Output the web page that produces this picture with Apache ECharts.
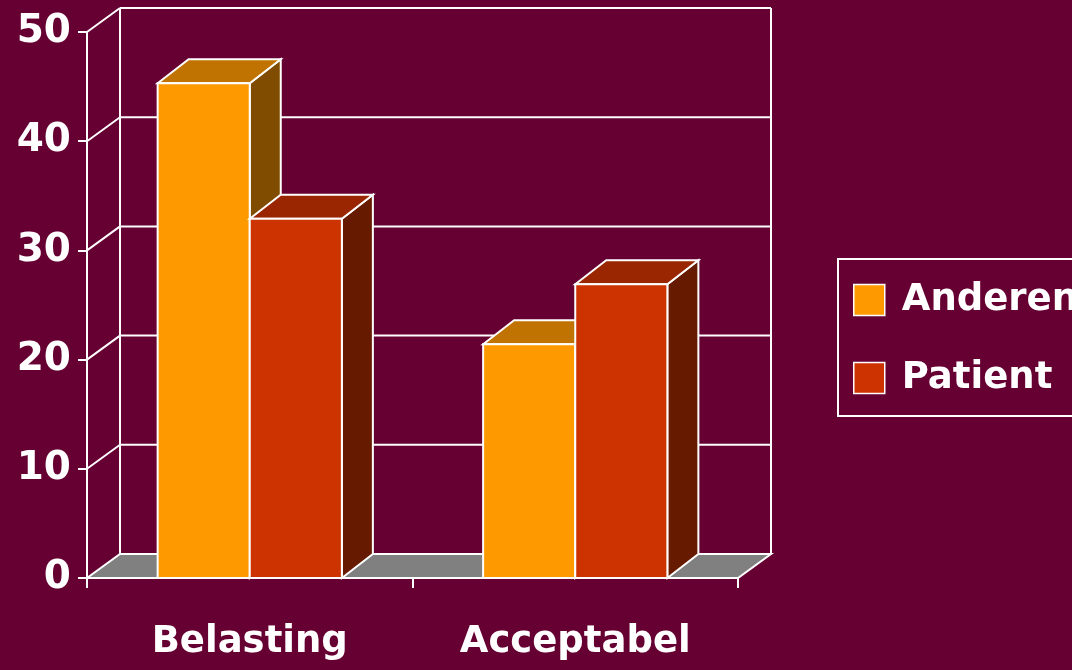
<!DOCTYPE html>
<html>
<head>
<meta charset="utf-8">
<script src="https://cdn.jsdelivr.net/npm/echarts@6/dist/echarts.min.js"></script>
<style>
html,body{margin:0;padding:0;background:#660033;}
#chart{width:1072px;height:670px;}
</style>
</head>
<body>
<div id="chart"></div>
<script>
// ---- data ----
const categories = ['Belasting', 'Acceptabel'];
const anderen = [45.3, 21.4];
const patient = [32.9, 26.9];
const yTicks = [0, 10, 20, 30, 40, 50];
const seriesNames = ['Anderen', 'Patient'];

// ---- styling ----
const BG = '#660033';
const WALL_DX = 33, WALL_DY = -24;
const BAR_DX = 31, BAR_DY = -24;
const BAR_RATIO = 0.283;
const LW = 2;
const FONT = '"DejaVu Sans", sans-serif';
const colors = {
  Anderen: { front: '#FF9900', top: '#C07300', side: '#804D00' },
  Patient: { front: '#CC3300', top: '#992600', side: '#661A00' }
};
const lineStyle = { stroke: '#ffffff', lineWidth: LW };

function wallRender(params, api) {
  const cs = params.coordSys;
  const v = api.value(0);
  const p = api.coord([0, v]);
  const y = p[1];
  const x0 = cs.x, x1 = cs.x + cs.width;
  const children = [];
  if (params.dataIndex === 0) {
    children.push({
      type: 'polygon',
      shape: { points: [[x0, y], [x1, y], [x1 + WALL_DX, y + WALL_DY], [x0 + WALL_DX, y + WALL_DY]] },
      style: { fill: '#808080', stroke: '#ffffff', lineWidth: LW }
    });
    const yTop = api.coord([0, yTicks[yTicks.length - 1]])[1];
    children.push({ type: 'line', shape: { x1: x0 + WALL_DX, y1: y + WALL_DY, x2: x0 + WALL_DX, y2: yTop + WALL_DY }, style: lineStyle });
    children.push({ type: 'line', shape: { x1: x1 + WALL_DX, y1: y + WALL_DY, x2: x1 + WALL_DX, y2: yTop + WALL_DY }, style: lineStyle });
  } else {
    children.push({ type: 'line', shape: { x1: x0 + WALL_DX, y1: y + WALL_DY, x2: x1 + WALL_DX, y2: y + WALL_DY }, style: lineStyle });
    children.push({ type: 'line', shape: { x1: x0, y1: y, x2: x0 + WALL_DX, y2: y + WALL_DY }, style: lineStyle });
  }
  return { type: 'group', children: children };
}

function makeBarRender(name, side) {
  const c = colors[name];
  return function (params, api) {
    const ci = api.value(0);
    const top = api.coord([ci, api.value(1)]);
    const base = api.coord([ci, 0]);
    const catW = api.size([1, 0])[0];
    const bw = catW * BAR_RATIO;
    const xl = side < 0 ? top[0] - bw : top[0];
    const xr = xl + bw;
    const yt = top[1], yb = base[1];
    return {
      type: 'group',
      children: [
        { type: 'polygon', shape: { points: [[xr, yt], [xr + BAR_DX, yt + BAR_DY], [xr + BAR_DX, yb + BAR_DY], [xr, yb]] },
          style: { fill: c.side, stroke: '#fff', lineWidth: LW } },
        { type: 'polygon', shape: { points: [[xl, yt], [xl + BAR_DX, yt + BAR_DY], [xr + BAR_DX, yt + BAR_DY], [xr, yt]] },
          style: { fill: c.top, stroke: '#fff', lineWidth: LW } },
        { type: 'rect', shape: { x: xl, y: yt, width: bw, height: yb - yt },
          style: { fill: c.front, stroke: '#fff', lineWidth: LW } }
      ]
    };
  };
}

const chart = echarts.init(document.getElementById('chart'));
chart.setOption({
  backgroundColor: BG,
  animation: false,
  grid: { left: 87, right: 334, top: 32, bottom: 92 },
  xAxis: {
    type: 'category',
    data: categories,
    boundaryGap: true,
    axisLine: { show: true, lineStyle: { color: '#fff', width: LW } },
    axisTick: { show: true, length: 10, lineStyle: { color: '#fff', width: LW } },
    axisLabel: { color: '#fff', fontFamily: FONT, fontWeight: 'bold', fontSize: 37, margin: 46 },
    z: 10
  },
  yAxis: {
    type: 'value',
    min: 0, max: 50, interval: 10,
    axisLine: { show: true, lineStyle: { color: '#fff', width: LW } },
    axisTick: { show: true, length: 9, lineStyle: { color: '#fff', width: LW } },
    axisLabel: { color: '#fff', fontFamily: FONT, fontWeight: 'bold', fontSize: 39, margin: 16 },
    splitLine: { show: false }
  },
  legend: {
    data: seriesNames,
    orient: 'vertical',
    left: 838, top: 259,
    padding: [21, 30, 18, 15],
    itemWidth: 31, itemHeight: 31,
    itemGap: 38,
    icon: 'rect',
    borderColor: '#fff', borderWidth: LW,
    itemStyle: { borderColor: '#fff', borderWidth: 1.5 },
    textStyle: { color: '#fff', fontFamily: FONT, fontWeight: 'bold', fontSize: 37, lineHeight: 37, padding: [3, 0, 0, 12] }
  },
  series: [
    {
      type: 'custom', name: 'walls', z: 1, silent: true,
      renderItem: wallRender,
      data: yTicks.map(v => [v]),
      encode: { y: 0 }
    },
    {
      type: 'custom', name: 'Anderen', z: 3,
      itemStyle: { color: colors.Anderen.front },
      renderItem: makeBarRender('Anderen', -1),
      data: anderen.map((v, i) => [i, v]),
      encode: { x: 0, y: 1 }
    },
    {
      type: 'custom', name: 'Patient', z: 3,
      itemStyle: { color: colors.Patient.front },
      renderItem: makeBarRender('Patient', 1),
      data: patient.map((v, i) => [i, v]),
      encode: { x: 0, y: 1 }
    }
  ]
});
</script>
</body>
</html>
